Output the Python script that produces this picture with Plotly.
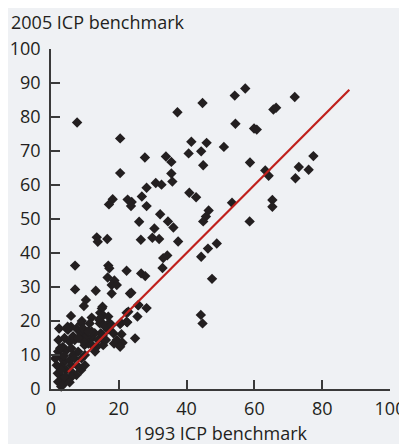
import plotly.graph_objects as go

x_1993 = [7.7, 20.4, 27.7, 33.9, 20.4, 30.9, 32.6, 28.2, 26.8, 28.2, 32.2, 18.2, 17.1, 22.6, 23.8, 23.6,
          26.0, 30.5, 13.5, 13.8, 16.6, 26.5, 29.9, 31.9, 35.5, 40.6, 44.3, 44.9, 35.5, 35.8, 40.8, 42.8,
          46.5, 45.7, 44.9, 53.4, 58.6, 34.5, 36.1, 37.5, 48.9, 46.3, 44.3, 33.1, 34.3, 32.9, 26.6, 27.8,
          47.5, 23.7, 25.7, 28.2, 57.3, 54.2, 71.9, 44.7, 37.3, 65.6, 66.4, 54.4, 59.9, 60.7, 41.4, 45.9,
          51.0, 58.7, 77.4, 73.1, 76.0, 72.1, 63.2, 64.2, 65.3, 65.3, 44.2, 44.7,
          7.1, 16.9, 17.2, 22.3, 16.7, 18.7, 17.9, 19.4, 17.9, 7.1, 13.2, 10.3, 9.7, 15.0, 14.5, 15.3,
          5.9, 12.0, 9.1, 14.3, 15.0, 22.3, 22.3, 20.6, 23.3, 15.2, 25.8, 22.8, 25.5, 20.4, 22.5, 17.2,
          14.7, 16.8, 18.4, 20.8, 24.8, 19.4, 18.6, 21.1, 20.4, 15.4, 15.0,
          8.9, 11.4, 14.4, 16.0, 5.0, 7.5, 8.9, 12.9, 11.9, 10.4, 5.5, 7.0, 3.5, 9.9, 13.9, 15.3,
          2.1, 4.5, 8.0, 6.5, 2.6, 4.0, 5.5, 3.0, 4.5, 8.0, 8.9, 6.5, 2.6, 3.5, 2.1, 3.5, 5.0, 7.5,
          2.0, 3.0, 2.4, 4.9, 2.2, 2.7, 1.2, 1.7, 6.1, 16.2, 13.5, 11.0, 12.0, 9.5, 5.9, 4.6, 14.5,
          16.9, 17.9, 6.0, 7.0, 9.0, 10.0, 6.0, 4.0, 5.5, 9.5, 11.0, 12.0, 13.0, 10.0, 3.0, 6.5, 8.0,
          4.0, 3.8]
y_2005 = [78.4, 73.7, 68.1, 68.4, 63.5, 60.6, 60.1, 59.2, 56.6, 53.8, 51.4, 55.8, 54.3, 55.7, 55.0, 53.8,
          49.2, 47.2, 44.6, 43.3, 44.1, 43.9, 44.5, 44.1, 66.8, 69.3, 69.9, 65.8, 63.4, 61.0, 57.7, 56.4,
          52.5, 50.7, 49.3, 54.8, 49.3, 49.3, 47.5, 43.4, 42.8, 41.3, 38.9, 38.5, 39.3, 35.6, 34.0, 33.2,
          32.4, 28.3, 24.6, 23.8, 88.4, 86.3, 85.9, 84.1, 81.4, 82.2, 82.7, 78.0, 76.6, 76.3, 72.7, 72.4,
          71.2, 66.6, 68.5, 65.3, 64.5, 62.0, 64.3, 62.7, 55.6, 53.6, 21.8, 19.3,
          36.3, 36.3, 35.5, 34.8, 32.8, 31.9, 30.6, 30.6, 28.1, 29.3, 28.9, 26.2, 24.4, 23.7, 22.4, 21.8,
          21.5, 21.0, 20.0, 20.3, 19.5, 22.4, 19.8, 19.5, 28.1, 24.2, 24.7, 22.7, 21.3, 19.1, 19.6, 19.5,
          16.4, 17.5, 16.4, 16.1, 14.9, 14.4, 13.4, 13.6, 12.4, 12.9, 14.9,
          19.3, 19.3, 19.3, 18.3, 17.4, 17.8, 16.4, 16.4, 14.9, 15.4, 13.9, 14.4, 12.4, 12.9, 14.4, 15.9,
          11.0, 11.3, 11.0, 10.0, 9.5, 8.0, 8.5, 6.6, 5.6, 6.6, 5.6, 4.6, 4.1, 2.6, 2.1, 1.2, 3.1, 4.1,
          4.6, 0.7, 17.8, 18.3, 14.4, 12.0, 9.0, 7.0, 3.6, 14.4, 12.4, 13.4, 16.9, 17.8, 18.3, 17.8, 20.8,
          21.3, 18.8, 12.0, 9.0, 9.0, 7.0, 7.0, 3.5, 2.0, 14.0, 17.0, 13.0, 11.0, 10.0, 5.5, 15.5, 15.0,
          15.0, 9.8]

line_x = [5, 88]
line_y = [5, 88]

x_ticks = [0, 20, 40, 60, 80, 100]
y_ticks = [0, 10, 20, 30, 40, 50, 60, 70, 80, 90, 100]

BG = "#eff1f4"
INK = "#231f20"
FONT = "Open Sans"
FS = 18

fig = go.Figure()
fig.add_trace(go.Scatter(
    x=x_1993, y=y_2005, mode="markers",
    marker=dict(symbol="diamond", size=8, color=INK, line=dict(width=0)),
    cliponaxis=False, showlegend=False, hoverinfo="skip"))
fig.add_trace(go.Scatter(
    x=line_x, y=line_y, mode="lines",
    line=dict(color="#c0201c", width=2.2),
    showlegend=False, hoverinfo="skip"))

axis_common = dict(
    showgrid=False, zeroline=False, showline=True, linecolor="#3a3a3a", linewidth=1.5,
    ticks="inside", ticklen=9, tickwidth=1.5, tickcolor="#3a3a3a", automargin=False,
    tickfont=dict(family=FONT, size=FS, color=INK), fixedrange=True)

# page body has an 8px default margin, so the figure is 8px smaller than the window
fig.update_layout(
    width=399, height=436,
    margin=dict(l=43, r=17, t=41, b=55),
    paper_bgcolor=BG, plot_bgcolor=BG,
    font=dict(family=FONT, color=INK),
    xaxis=dict(range=[0, 100], tickvals=x_ticks, ticklabelstandoff=3, **axis_common),
    yaxis=dict(range=[0, 100], tickvals=y_ticks, ticklabelstandoff=5, **axis_common),
    annotations=[
        dict(text="2005 ICP benchmark", xref="paper", yref="paper",
             x=-42/339, y=1 + 27/340, xanchor="left", yanchor="middle", showarrow=False,
             font=dict(family=FONT, size=FS, color=INK)),
        dict(text="1993 ICP benchmark", xref="paper", yref="paper",
             x=0.5, y=-44/340, xanchor="center", yanchor="middle", showarrow=False,
             font=dict(family=FONT, size=FS, color=INK)),
    ],
)

fig.write_html("out.html")
